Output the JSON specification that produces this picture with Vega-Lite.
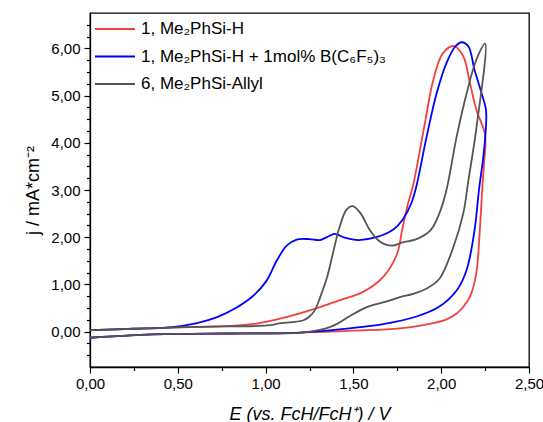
{
  "$schema": "https://vega.github.io/schema/vega-lite/v6.json",
  "width": 439,
  "height": 354,
  "autosize": {"type": "none"},
  "padding": {"left": 90, "top": 13, "right": 14, "bottom": 55},
  "background": "white",
  "config": {
    "font": "Liberation Sans",
    "view": {"stroke": "black", "strokeWidth": 1.3},
    "axis": {"grid": false, "domainColor": "black", "tickColor": "black", "labelColor": "black", "titleColor": "black", "titleFontWeight": "normal", "labelFontSize": 15, "titleFontSize": 18, "domainWidth": 1.3, "tickWidth": 1.2, "labelOverlap": false, "labelFlush": false}
  },
  "data": {
    "values": [
      {"s": "1, Me₂PhSi-H", "i": 1, "E": 0.00, "j": 0.03},
      {"s": "1, Me₂PhSi-H", "i": 2, "E": 0.25, "j": 0.06},
      {"s": "1, Me₂PhSi-H", "i": 3, "E": 0.50, "j": 0.09},
      {"s": "1, Me₂PhSi-H", "i": 4, "E": 0.80, "j": 0.12},
      {"s": "1, Me₂PhSi-H", "i": 5, "E": 0.95, "j": 0.17},
      {"s": "1, Me₂PhSi-H", "i": 6, "E": 1.10, "j": 0.29},
      {"s": "1, Me₂PhSi-H", "i": 7, "E": 1.27, "j": 0.47},
      {"s": "1, Me₂PhSi-H", "i": 8, "E": 1.42, "j": 0.66},
      {"s": "1, Me₂PhSi-H", "i": 9, "E": 1.55, "j": 0.83},
      {"s": "1, Me₂PhSi-H", "i": 10, "E": 1.64, "j": 1.05},
      {"s": "1, Me₂PhSi-H", "i": 11, "E": 1.70, "j": 1.30},
      {"s": "1, Me₂PhSi-H", "i": 12, "E": 1.75, "j": 1.66},
      {"s": "1, Me₂PhSi-H", "i": 13, "E": 1.78, "j": 2.20},
      {"s": "1, Me₂PhSi-H", "i": 14, "E": 1.81, "j": 2.70},
      {"s": "1, Me₂PhSi-H", "i": 15, "E": 1.84, "j": 3.10},
      {"s": "1, Me₂PhSi-H", "i": 16, "E": 1.90, "j": 4.27},
      {"s": "1, Me₂PhSi-H", "i": 17, "E": 1.955, "j": 5.33},
      {"s": "1, Me₂PhSi-H", "i": 18, "E": 2.01, "j": 5.90},
      {"s": "1, Me₂PhSi-H", "i": 19, "E": 2.073, "j": 6.05},
      {"s": "1, Me₂PhSi-H", "i": 20, "E": 2.126, "j": 5.83},
      {"s": "1, Me₂PhSi-H", "i": 21, "E": 2.164, "j": 5.26},
      {"s": "1, Me₂PhSi-H", "i": 22, "E": 2.20, "j": 4.70},
      {"s": "1, Me₂PhSi-H", "i": 23, "E": 2.25, "j": 4.17},
      {"s": "1, Me₂PhSi-H", "i": 24, "E": 2.244, "j": 3.57},
      {"s": "1, Me₂PhSi-H", "i": 25, "E": 2.235, "j": 3.10},
      {"s": "1, Me₂PhSi-H", "i": 26, "E": 2.22, "j": 2.15},
      {"s": "1, Me₂PhSi-H", "i": 27, "E": 2.20, "j": 1.24},
      {"s": "1, Me₂PhSi-H", "i": 28, "E": 2.164, "j": 0.74},
      {"s": "1, Me₂PhSi-H", "i": 29, "E": 2.12, "j": 0.50},
      {"s": "1, Me₂PhSi-H", "i": 30, "E": 2.09, "j": 0.39},
      {"s": "1, Me₂PhSi-H", "i": 31, "E": 2.03, "j": 0.26},
      {"s": "1, Me₂PhSi-H", "i": 32, "E": 1.955, "j": 0.18},
      {"s": "1, Me₂PhSi-H", "i": 33, "E": 1.765, "j": 0.07},
      {"s": "1, Me₂PhSi-H", "i": 34, "E": 1.50, "j": 0.02},
      {"s": "1, Me₂PhSi-H", "i": 35, "E": 1.20, "j": -0.02},
      {"s": "1, Me₂PhSi-H", "i": 36, "E": 0.80, "j": -0.04},
      {"s": "1, Me₂PhSi-H", "i": 37, "E": 0.50, "j": -0.05},
      {"s": "1, Me₂PhSi-H", "i": 38, "E": 0.23, "j": -0.08},
      {"s": "1, Me₂PhSi-H", "i": 39, "E": 0.00, "j": -0.13},

      {"s": "1, Me₂PhSi-H + 1mol% B(C₆F₅)₃", "i": 1, "E": 0.00, "j": 0.03},
      {"s": "1, Me₂PhSi-H + 1mol% B(C₆F₅)₃", "i": 2, "E": 0.25, "j": 0.06},
      {"s": "1, Me₂PhSi-H + 1mol% B(C₆F₅)₃", "i": 3, "E": 0.456, "j": 0.09},
      {"s": "1, Me₂PhSi-H + 1mol% B(C₆F₅)₃", "i": 4, "E": 0.61, "j": 0.18},
      {"s": "1, Me₂PhSi-H + 1mol% B(C₆F₅)₃", "i": 5, "E": 0.72, "j": 0.30},
      {"s": "1, Me₂PhSi-H + 1mol% B(C₆F₅)₃", "i": 6, "E": 0.83, "j": 0.50},
      {"s": "1, Me₂PhSi-H + 1mol% B(C₆F₅)₃", "i": 7, "E": 0.93, "j": 0.76},
      {"s": "1, Me₂PhSi-H + 1mol% B(C₆F₅)₃", "i": 8, "E": 1.006, "j": 1.08},
      {"s": "1, Me₂PhSi-H + 1mol% B(C₆F₅)₃", "i": 9, "E": 1.063, "j": 1.50},
      {"s": "1, Me₂PhSi-H + 1mol% B(C₆F₅)₃", "i": 10, "E": 1.12, "j": 1.82},
      {"s": "1, Me₂PhSi-H + 1mol% B(C₆F₅)₃", "i": 11, "E": 1.177, "j": 1.95},
      {"s": "1, Me₂PhSi-H + 1mol% B(C₆F₅)₃", "i": 12, "E": 1.25, "j": 1.96},
      {"s": "1, Me₂PhSi-H + 1mol% B(C₆F₅)₃", "i": 13, "E": 1.31, "j": 1.94},
      {"s": "1, Me₂PhSi-H + 1mol% B(C₆F₅)₃", "i": 14, "E": 1.36, "j": 2.02},
      {"s": "1, Me₂PhSi-H + 1mol% B(C₆F₅)₃", "i": 15, "E": 1.395, "j": 2.07},
      {"s": "1, Me₂PhSi-H + 1mol% B(C₆F₅)₃", "i": 16, "E": 1.45, "j": 1.99},
      {"s": "1, Me₂PhSi-H + 1mol% B(C₆F₅)₃", "i": 17, "E": 1.53, "j": 1.94},
      {"s": "1, Me₂PhSi-H + 1mol% B(C₆F₅)₃", "i": 18, "E": 1.63, "j": 2.00},
      {"s": "1, Me₂PhSi-H + 1mol% B(C₆F₅)₃", "i": 19, "E": 1.73, "j": 2.17},
      {"s": "1, Me₂PhSi-H + 1mol% B(C₆F₅)₃", "i": 20, "E": 1.78, "j": 2.37},
      {"s": "1, Me₂PhSi-H + 1mol% B(C₆F₅)₃", "i": 21, "E": 1.83, "j": 2.72},
      {"s": "1, Me₂PhSi-H + 1mol% B(C₆F₅)₃", "i": 22, "E": 1.86, "j": 3.10},
      {"s": "1, Me₂PhSi-H + 1mol% B(C₆F₅)₃", "i": 23, "E": 1.917, "j": 4.13},
      {"s": "1, Me₂PhSi-H + 1mol% B(C₆F₅)₃", "i": 24, "E": 1.974, "j": 5.05},
      {"s": "1, Me₂PhSi-H + 1mol% B(C₆F₅)₃", "i": 25, "E": 2.03, "j": 5.69},
      {"s": "1, Me₂PhSi-H + 1mol% B(C₆F₅)₃", "i": 26, "E": 2.08, "j": 6.04},
      {"s": "1, Me₂PhSi-H + 1mol% B(C₆F₅)₃", "i": 27, "E": 2.117, "j": 6.13},
      {"s": "1, Me₂PhSi-H + 1mol% B(C₆F₅)₃", "i": 28, "E": 2.155, "j": 6.04},
      {"s": "1, Me₂PhSi-H + 1mol% B(C₆F₅)₃", "i": 29, "E": 2.19, "j": 5.54},
      {"s": "1, Me₂PhSi-H + 1mol% B(C₆F₅)₃", "i": 30, "E": 2.23, "j": 5.05},
      {"s": "1, Me₂PhSi-H + 1mol% B(C₆F₅)₃", "i": 31, "E": 2.255, "j": 4.70},
      {"s": "1, Me₂PhSi-H + 1mol% B(C₆F₅)₃", "i": 32, "E": 2.255, "j": 4.35},
      {"s": "1, Me₂PhSi-H + 1mol% B(C₆F₅)₃", "i": 33, "E": 2.24, "j": 3.71},
      {"s": "1, Me₂PhSi-H + 1mol% B(C₆F₅)₃", "i": 34, "E": 2.215, "j": 3.00},
      {"s": "1, Me₂PhSi-H + 1mol% B(C₆F₅)₃", "i": 35, "E": 2.19, "j": 2.15},
      {"s": "1, Me₂PhSi-H + 1mol% B(C₆F₅)₃", "i": 36, "E": 2.145, "j": 1.31},
      {"s": "1, Me₂PhSi-H + 1mol% B(C₆F₅)₃", "i": 37, "E": 2.09, "j": 0.88},
      {"s": "1, Me₂PhSi-H + 1mol% B(C₆F₅)₃", "i": 38, "E": 1.99, "j": 0.53},
      {"s": "1, Me₂PhSi-H + 1mol% B(C₆F₅)₃", "i": 39, "E": 1.86, "j": 0.32},
      {"s": "1, Me₂PhSi-H + 1mol% B(C₆F₅)₃", "i": 40, "E": 1.67, "j": 0.16},
      {"s": "1, Me₂PhSi-H + 1mol% B(C₆F₅)₃", "i": 41, "E": 1.48, "j": 0.07},
      {"s": "1, Me₂PhSi-H + 1mol% B(C₆F₅)₃", "i": 42, "E": 1.20, "j": -0.02},
      {"s": "1, Me₂PhSi-H + 1mol% B(C₆F₅)₃", "i": 43, "E": 0.80, "j": -0.04},
      {"s": "1, Me₂PhSi-H + 1mol% B(C₆F₅)₃", "i": 44, "E": 0.50, "j": -0.05},
      {"s": "1, Me₂PhSi-H + 1mol% B(C₆F₅)₃", "i": 45, "E": 0.23, "j": -0.08},
      {"s": "1, Me₂PhSi-H + 1mol% B(C₆F₅)₃", "i": 46, "E": 0.00, "j": -0.13},

      {"s": "6, Me₂PhSi-Allyl", "i": 1, "E": 0.00, "j": 0.03},
      {"s": "6, Me₂PhSi-Allyl", "i": 2, "E": 0.25, "j": 0.06},
      {"s": "6, Me₂PhSi-Allyl", "i": 3, "E": 0.50, "j": 0.09},
      {"s": "6, Me₂PhSi-Allyl", "i": 4, "E": 0.80, "j": 0.11},
      {"s": "6, Me₂PhSi-Allyl", "i": 5, "E": 1.01, "j": 0.13},
      {"s": "6, Me₂PhSi-Allyl", "i": 6, "E": 1.09, "j": 0.18},
      {"s": "6, Me₂PhSi-Allyl", "i": 7, "E": 1.15, "j": 0.20},
      {"s": "6, Me₂PhSi-Allyl", "i": 8, "E": 1.215, "j": 0.24},
      {"s": "6, Me₂PhSi-Allyl", "i": 9, "E": 1.25, "j": 0.32},
      {"s": "6, Me₂PhSi-Allyl", "i": 10, "E": 1.28, "j": 0.45},
      {"s": "6, Me₂PhSi-Allyl", "i": 11, "E": 1.31, "j": 0.72},
      {"s": "6, Me₂PhSi-Allyl", "i": 12, "E": 1.35, "j": 1.15},
      {"s": "6, Me₂PhSi-Allyl", "i": 13, "E": 1.386, "j": 1.70},
      {"s": "6, Me₂PhSi-Allyl", "i": 14, "E": 1.42, "j": 2.20},
      {"s": "6, Me₂PhSi-Allyl", "i": 15, "E": 1.46, "j": 2.58},
      {"s": "6, Me₂PhSi-Allyl", "i": 16, "E": 1.496, "j": 2.66},
      {"s": "6, Me₂PhSi-Allyl", "i": 17, "E": 1.54, "j": 2.51},
      {"s": "6, Me₂PhSi-Allyl", "i": 18, "E": 1.594, "j": 2.15},
      {"s": "6, Me₂PhSi-Allyl", "i": 19, "E": 1.65, "j": 1.91},
      {"s": "6, Me₂PhSi-Allyl", "i": 20, "E": 1.72, "j": 1.82},
      {"s": "6, Me₂PhSi-Allyl", "i": 21, "E": 1.78, "j": 1.89},
      {"s": "6, Me₂PhSi-Allyl", "i": 22, "E": 1.86, "j": 1.96},
      {"s": "6, Me₂PhSi-Allyl", "i": 23, "E": 1.94, "j": 2.15},
      {"s": "6, Me₂PhSi-Allyl", "i": 24, "E": 1.99, "j": 2.51},
      {"s": "6, Me₂PhSi-Allyl", "i": 25, "E": 2.03, "j": 3.00},
      {"s": "6, Me₂PhSi-Allyl", "i": 26, "E": 2.088, "j": 4.13},
      {"s": "6, Me₂PhSi-Allyl", "i": 27, "E": 2.145, "j": 5.05},
      {"s": "6, Me₂PhSi-Allyl", "i": 28, "E": 2.20, "j": 5.76},
      {"s": "6, Me₂PhSi-Allyl", "i": 29, "E": 2.25, "j": 6.10},
      {"s": "6, Me₂PhSi-Allyl", "i": 30, "E": 2.20, "j": 4.30},
      {"s": "6, Me₂PhSi-Allyl", "i": 31, "E": 2.155, "j": 3.21},
      {"s": "6, Me₂PhSi-Allyl", "i": 32, "E": 2.126, "j": 2.51},
      {"s": "6, Me₂PhSi-Allyl", "i": 33, "E": 2.07, "j": 1.80},
      {"s": "6, Me₂PhSi-Allyl", "i": 34, "E": 1.99, "j": 1.12},
      {"s": "6, Me₂PhSi-Allyl", "i": 35, "E": 1.92, "j": 0.92},
      {"s": "6, Me₂PhSi-Allyl", "i": 36, "E": 1.84, "j": 0.80},
      {"s": "6, Me₂PhSi-Allyl", "i": 37, "E": 1.765, "j": 0.73},
      {"s": "6, Me₂PhSi-Allyl", "i": 38, "E": 1.69, "j": 0.64},
      {"s": "6, Me₂PhSi-Allyl", "i": 39, "E": 1.576, "j": 0.52},
      {"s": "6, Me₂PhSi-Allyl", "i": 40, "E": 1.48, "j": 0.33},
      {"s": "6, Me₂PhSi-Allyl", "i": 41, "E": 1.41, "j": 0.17},
      {"s": "6, Me₂PhSi-Allyl", "i": 42, "E": 1.345, "j": 0.07},
      {"s": "6, Me₂PhSi-Allyl", "i": 43, "E": 1.20, "j": -0.02},
      {"s": "6, Me₂PhSi-Allyl", "i": 44, "E": 0.80, "j": -0.04},
      {"s": "6, Me₂PhSi-Allyl", "i": 45, "E": 0.50, "j": -0.05},
      {"s": "6, Me₂PhSi-Allyl", "i": 46, "E": 0.23, "j": -0.08},
      {"s": "6, Me₂PhSi-Allyl", "i": 47, "E": 0.00, "j": -0.13}
    ]
  },
  "mark": {"type": "line", "interpolate": "catmull-rom", "strokeWidth": 1.8, "clip": true},
  "encoding": {
    "x": {
      "field": "E", "type": "quantitative",
      "scale": {"domain": [0, 2.5], "nice": false, "zero": false},
      "axis": {
        "title": "E (vs. FcH/FcH⁺) / V",
        "titleFontStyle": "italic",
        "values": [0, 0.25, 0.5, 0.75, 1, 1.25, 1.5, 1.75, 2, 2.25, 2.5],
        "labelExpr": "abs(datum.value*2 - round(datum.value*2)) < 0.001 ? replace(format(datum.value, '.2f'), '.', ',') : ''",
        "tickSize": {"condition": {"test": "abs(datum.value*2 - round(datum.value*2)) < 0.001", "value": 6}, "value": 3.5},
        "labelPadding": 3,
        "titlePadding": 14
      }
    },
    "y": {
      "field": "j", "type": "quantitative",
      "scale": {"domain": [-0.75, 6.75], "nice": false, "zero": false},
      "axis": {
        "title": "j / mA*cm⁻²",
        "values": [-0.5, -0.25, 0, 0.25, 0.5, 0.75, 1, 1.25, 1.5, 1.75, 2, 2.25, 2.5, 2.75, 3, 3.25, 3.5, 3.75, 4, 4.25, 4.5, 4.75, 5, 5.25, 5.5, 5.75, 6, 6.25, 6.5],
        "labelExpr": "abs(datum.value - round(datum.value)) < 0.001 ? replace(format(datum.value, '.2f'), '.', ',') : ''",
        "tickSize": {"condition": {"test": "abs(datum.value - round(datum.value)) < 0.001", "value": 6}, "value": 3.5},
        "labelPadding": 4,
        "titlePadding": 8
      }
    },
    "color": {
      "field": "s", "type": "nominal",
      "scale": {"domain": ["1, Me₂PhSi-H", "1, Me₂PhSi-H + 1mol% B(C₆F₅)₃", "6, Me₂PhSi-Allyl"], "range": ["#f04040", "#0000ff", "#555555"]},
      "legend": {
        "title": null,
        "orient": "none",
        "legendX": 4,
        "legendY": 6,
        "padding": 0,
        "symbolType": "stroke",
        "symbolSize": 1600,
        "symbolStrokeWidth": 2,
        "clipHeight": 20,
        "rowPadding": 7.5,
        "labelOffset": 5,
        "labelFontSize": 17,
        "labelLimit": 400,
        "labelColor": "black"
      }
    },
    "order": {"field": "i", "type": "quantitative"}
  }
}
